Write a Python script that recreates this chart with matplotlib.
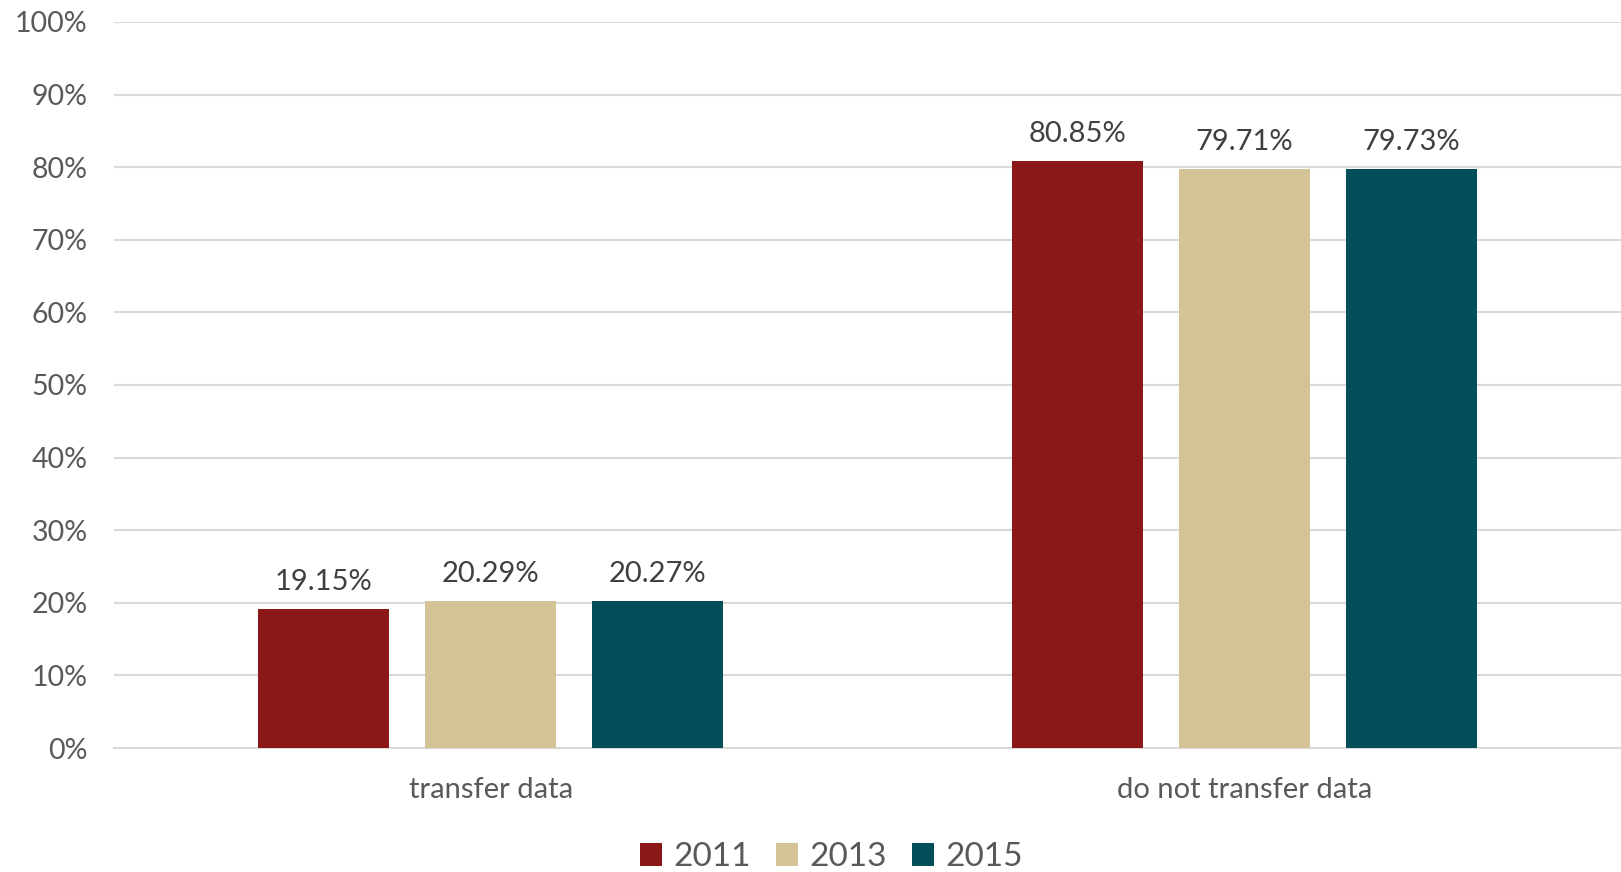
import matplotlib
matplotlib.use("Agg")
import matplotlib.pyplot as plt
import numpy as np

plt.rcParams["font.family"] = ["Lato", "DejaVu Sans"]

categories = ["transfer data", "do not transfer data"]
years = ["2011", "2013", "2015"]
values = {
    "2011": [19.15, 80.85],
    "2013": [20.29, 79.71],
    "2015": [20.27, 79.73],
}
colors = ["#8B1717", "#D4C396", "#024F5A"]

fig = plt.figure(figsize=(16.21, 8.72), dpi=100)
ax = fig.add_axes([0.0703, 0.1422, 0.9297, 0.8326])

x = np.arange(len(categories))
width = 0.174
step = 0.2215
for i, (yr, c) in enumerate(zip(years, colors)):
    pos = x + (i - 1) * step
    bars = ax.bar(pos, values[yr], width, color=c, label=yr, zorder=3)
    for b, v in zip(bars, values[yr]):
        ax.text(b.get_x() + b.get_width() / 2, v + 1.9, f"{v:.2f}%",
                ha="center", va="bottom", fontsize=21, color="#404040")

ax.set_xlim(-0.5, 1.5)
ax.set_ylim(0, 100)
ax.set_yticks(np.arange(0, 101, 10))
ax.set_yticklabels([f"{t}%" for t in range(0, 101, 10)])
ax.set_xticks(x)
ax.set_xticklabels(categories)
ax.tick_params(axis="both", length=0, labelsize=20.5, colors="#595959")
ax.tick_params(axis="x", labelsize=21, pad=21)
ax.tick_params(axis="y", pad=19)
ax.grid(axis="y", color="#D9D9D9", linewidth=1.5, zorder=0)
for s in ["top", "right", "left"]:
    ax.spines[s].set_visible(False)
ax.spines["bottom"].set_color("#D9D9D9")
ax.spines["bottom"].set_linewidth(1.5)

leg = fig.legend(loc="center", bbox_to_anchor=(0.513, 0.017), ncol=3, frameon=False,
                 fontsize=24, handlelength=0.65, handleheight=0.65, handletextpad=0.35,
                 columnspacing=0.75)
for t in leg.get_texts():
    t.set_color("#595959")

fig.savefig("out.png", dpi=100)
